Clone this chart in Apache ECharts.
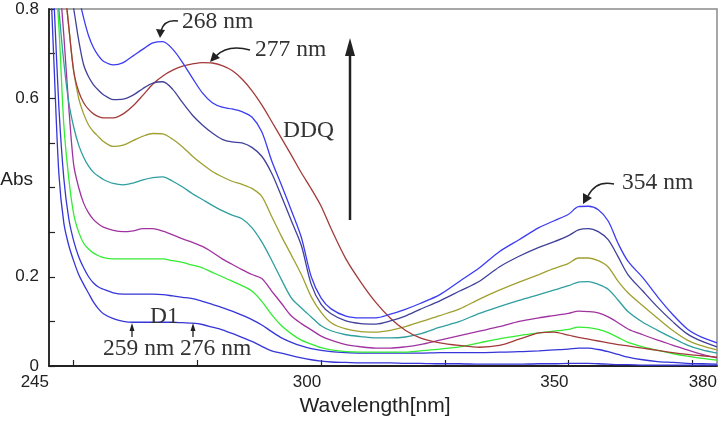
<!DOCTYPE html>
<html>
<head>
<meta charset="utf-8">
<script src="https://cdn.jsdelivr.net/npm/echarts@6/dist/echarts.min.js"></script>
<style>
  html, body { margin: 0; padding: 0; background: #fff; }
  #main { width: 723px; height: 421px; }
</style>
</head>
<body>
<div id="main"></div>
<script>
// wavelength grid (nm)
var wl = [245,246,247,248,249,250,251,252,253,254,255,256,258,260,262,264,266,268,270,272,274,276,278,280,282,284,286,288,290,292,294,296,298,300,302,305,308,311,314,317,320,324,328,332,336,340,344,347,350,352,354,356,358,360,362,365,368,371,374,377,380];

// absorbance of each spectrum
var absTop = [1.35,1.25,1.15,1.07,0.98,0.9,0.83,0.78,0.74,0.713,0.695,0.683,0.675,0.68,0.695,0.71,0.724,0.727,0.71,0.68,0.645,0.612,0.59,0.58,0.576,0.57,0.558,0.525,0.46,0.405,0.348,0.288,0.2,0.152,0.128,0.112,0.108,0.108,0.116,0.127,0.14,0.16,0.19,0.22,0.256,0.283,0.31,0.325,0.34,0.357,0.358,0.35,0.325,0.275,0.235,0.198,0.155,0.116,0.083,0.064,0.052];
var absNavy = [1.3,1.15,1.02,0.93,0.86,0.8,0.73,0.675,0.648,0.63,0.618,0.608,0.597,0.598,0.607,0.622,0.634,0.637,0.62,0.59,0.562,0.54,0.522,0.508,0.502,0.5,0.49,0.47,0.432,0.38,0.325,0.27,0.183,0.138,0.117,0.101,0.095,0.094,0.101,0.112,0.127,0.146,0.168,0.19,0.222,0.246,0.266,0.278,0.292,0.305,0.308,0.301,0.283,0.245,0.205,0.168,0.132,0.1,0.072,0.055,0.043];
var absDDQ = [1.3,1.15,1.0,0.87,0.76,0.66,0.615,0.59,0.575,0.565,0.559,0.556,0.556,0.565,0.583,0.607,0.632,0.65,0.663,0.672,0.677,0.68,0.679,0.673,0.662,0.643,0.617,0.585,0.548,0.51,0.472,0.433,0.397,0.358,0.308,0.24,0.188,0.143,0.107,0.08,0.063,0.052,0.046,0.042,0.046,0.06,0.074,0.076,0.069,0.064,0.06,0.056,0.052,0.048,0.045,0.04,0.035,0.03,0.026,0.023,0.02];
var absOlive = [1.25,1.1,0.98,0.87,0.76,0.66,0.6,0.565,0.54,0.525,0.514,0.503,0.492,0.495,0.505,0.515,0.521,0.52,0.508,0.491,0.47,0.452,0.436,0.424,0.414,0.407,0.398,0.38,0.335,0.29,0.248,0.205,0.155,0.12,0.097,0.083,0.077,0.076,0.08,0.088,0.099,0.113,0.128,0.15,0.17,0.188,0.205,0.218,0.23,0.242,0.242,0.236,0.222,0.19,0.164,0.135,0.107,0.08,0.058,0.045,0.036];
var absTeal = [1.2,0.95,0.8,0.68,0.59,0.535,0.495,0.468,0.448,0.434,0.425,0.418,0.409,0.406,0.41,0.417,0.422,0.424,0.414,0.401,0.386,0.373,0.36,0.348,0.338,0.33,0.31,0.278,0.237,0.193,0.152,0.13,0.11,0.09,0.079,0.07,0.066,0.063,0.063,0.065,0.072,0.087,0.1,0.118,0.133,0.147,0.16,0.17,0.18,0.188,0.189,0.183,0.172,0.148,0.122,0.098,0.08,0.063,0.047,0.036,0.029];
var absMagenta = [1.15,1.0,0.88,0.74,0.58,0.45,0.4,0.365,0.343,0.328,0.318,0.311,0.304,0.301,0.303,0.308,0.308,0.302,0.294,0.285,0.277,0.268,0.255,0.24,0.228,0.216,0.205,0.196,0.168,0.14,0.112,0.095,0.081,0.067,0.058,0.048,0.043,0.04,0.04,0.043,0.048,0.058,0.068,0.078,0.088,0.1,0.108,0.113,0.118,0.123,0.122,0.119,0.11,0.097,0.083,0.07,0.058,0.047,0.036,0.026,0.018];
var absGreen = [1.1,0.92,0.76,0.54,0.42,0.34,0.3,0.275,0.262,0.253,0.247,0.243,0.24,0.24,0.24,0.24,0.24,0.24,0.236,0.232,0.226,0.22,0.21,0.2,0.19,0.18,0.168,0.145,0.115,0.09,0.072,0.058,0.049,0.041,0.036,0.032,0.031,0.031,0.031,0.031,0.034,0.038,0.043,0.052,0.061,0.068,0.074,0.078,0.082,0.087,0.086,0.082,0.075,0.064,0.053,0.043,0.035,0.028,0.022,0.017,0.013];
var absBlue2 = [1.05,0.82,0.58,0.42,0.33,0.28,0.245,0.22,0.2,0.186,0.177,0.172,0.164,0.161,0.161,0.161,0.161,0.16,0.157,0.154,0.151,0.145,0.138,0.131,0.123,0.114,0.104,0.092,0.077,0.063,0.053,0.045,0.039,0.035,0.032,0.03,0.029,0.029,0.029,0.029,0.029,0.03,0.03,0.03,0.031,0.032,0.034,0.036,0.038,0.04,0.04,0.037,0.032,0.026,0.02,0.014,0.01,0.008,0.006,0.005,0.004];
var absD1 = [0.95,0.68,0.43,0.32,0.27,0.235,0.205,0.183,0.163,0.143,0.128,0.117,0.106,0.1,0.098,0.098,0.098,0.098,0.098,0.097,0.096,0.093,0.087,0.081,0.073,0.064,0.055,0.044,0.034,0.029,0.023,0.018,0.014,0.011,0.009,0.008,0.007,0.007,0.007,0.006,0.006,0.005,0.005,0.004,0.004,0.004,0.005,0.005,0.006,0.006,0.006,0.005,0.004,0.003,0.003,0.002,0.002,0.002,0.002,0.002,0.002];

// axis labels / ticks
var xLabelValues = [245, 300, 350, 380];
var xTickValues = [250, 275, 300, 325, 350, 375];
var yLabelValues = [0, 0.2, 0.6, 0.8];

var spectra = [
  { name: 'D1', data: absD1, color: '#3535d8' },
  { name: 's2', data: absBlue2, color: '#3535d8' },
  { name: 's3', data: absGreen, color: '#33ec33' },
  { name: 's4', data: absMagenta, color: '#a033a0' },
  { name: 's5', data: absTeal, color: '#2f9e9e' },
  { name: 's6', data: absOlive, color: '#a0a030' },
  { name: 'DDQ', data: absDDQ, color: '#a33a3a' },
  { name: 's8', data: absNavy, color: '#40409a' },
  { name: 's9', data: absTop, color: '#3c3cf2' }
];

function zip(xs, ys) {
  var out = [];
  for (var i = 0; i < xs.length; i++) out.push([xs[i], ys[i]]);
  return out;
}

var myChart = echarts.init(document.getElementById('main'));

var serif = '23.5px "Liberation Serif", "Times New Roman", serif';
var ink = '#333';

function label(x, y, text) {
  return { type: 'text', x: x, y: y, z: 10,
    style: { text: text, font: serif, fill: ink, textVerticalAlign: 'middle' } };
}
function head(points) {
  return { type: 'polygon', z: 10, shape: { points: points }, style: { fill: '#222' } };
}
function curve(x1, y1, cx, cy, x2, y2) {
  return { type: 'bezierCurve', z: 10,
    shape: { x1: x1, y1: y1, cpx1: cx, cpy1: cy, x2: x2, y2: y2 },
    style: { stroke: '#222', lineWidth: 1.5, fill: null } };
}
function stick(x, y1, y2, w) {
  return { type: 'line', z: 10, shape: { x1: x, y1: y1, x2: x, y2: y2 },
    style: { stroke: '#222', lineWidth: w } };
}

myChart.setOption({
  animation: false,
  backgroundColor: '#fff',
  grid: {
    left: 49, right: 6, top: 9, bottom: 55,
    outerBoundsMode: 'none', containLabel: false,
    show: true, borderColor: '#8a8a8a', borderWidth: 1.5, backgroundColor: 'transparent'
  },
  xAxis: {
    type: 'value', min: 245, max: 380,
    name: 'Wavelength[nm]', nameLocation: 'middle', nameGap: 30,
    nameTextStyle: { fontFamily: 'Liberation Sans', fontSize: 21, color: '#222', padding: [0, 16, 0, 0] },
    axisLine: { lineStyle: { color: '#222', width: 1.8 } },
    axisTick: { inside: true, length: 6, customValues: xTickValues, lineStyle: { color: '#222', width: 1.2 } },
    axisLabel: { customValues: xLabelValues, align: 'right', margin: 8,
      fontFamily: 'Liberation Sans', fontSize: 17, color: '#222' },
    splitLine: { show: false }
  },
  yAxis: {
    type: 'value', min: 0, max: 0.8, interval: 0.1,
    axisLine: { lineStyle: { color: '#222', width: 1.8 } },
    axisTick: { inside: true, length: 6, lineStyle: { color: '#222', width: 1.2 } },
    axisLabel: { margin: 10, fontFamily: 'Liberation Sans', fontSize: 17, color: '#222',
      formatter: function (v) {
        var r = Math.round(v * 10) / 10;
        if (r === 0.4) return '{abs|Abs}';
        return yLabelValues.indexOf(r) >= 0 ? String(r) : '';
      },
      rich: { abs: { fontFamily: 'Liberation Sans', fontSize: 19, color: '#222', padding: [0, 6, 15, 0] } } },
    splitLine: { show: false }
  },
  series: spectra.map(function (s) {
    return {
      name: s.name, type: 'line', data: zip(wl, s.data),
      showSymbol: false, smooth: 0.3, clip: true,
      lineStyle: { color: s.color, width: 1.3 }
    };
  }),
  graphic: [
    label(182, 22, '268 nm'),
    label(255, 50, '277 nm'),
    label(283, 131, 'DDQ'),
    label(622, 183, '354 nm'),
    label(150, 317, 'D1'),
    label(103, 349, '259 nm 276 nm'),
    stick(350, 220, 52, 2.5),
    head([[350, 38], [345, 56], [355, 56]]),
    curve(178, 21, 164, 19, 161, 31),
    head([[160, 38], [156, 29], [165, 30]]),
    curve(250, 50, 228, 44, 216, 56),
    head([[210, 62], [213, 52], [220, 58]]),
    curve(614, 184, 596, 180, 588, 196),
    head([[583, 204], [583, 193], [592, 198]]),
    stick(132, 337, 330, 1.3),
    head([[132, 323], [129.5, 331], [134.5, 331]]),
    stick(193, 337, 330, 1.3),
    head([[193, 323], [190.5, 331], [195.5, 331]])
  ]
});
</script>
</body>
</html>
